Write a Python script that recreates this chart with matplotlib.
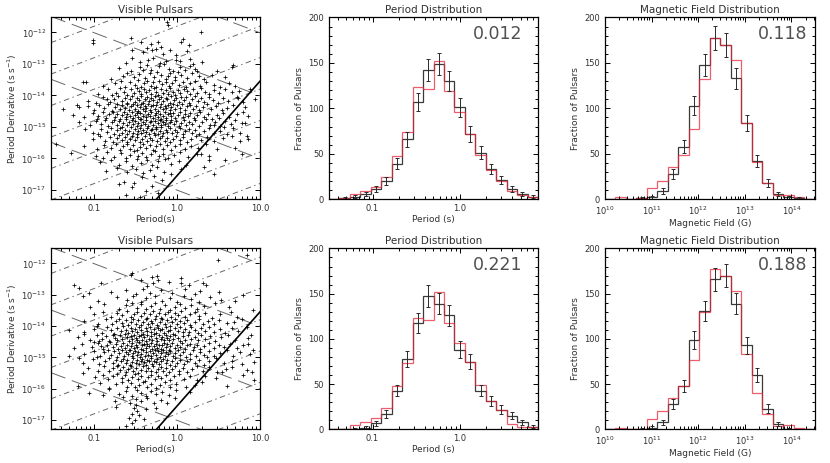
import numpy as np
import matplotlib.pyplot as plt
from matplotlib.ticker import LogLocator, FixedLocator, MultipleLocator, NullLocator, NullFormatter, FixedFormatter

plt.rcParams['font.family'] = ['DejaVu Sans']
plt.rcParams['lines.scale_dashes'] = False

# ---------------- datos (log10 P [s], log10 Pdot [s/s]) ----------------
# pulsares visibles, panel superior (leidos a ojo del grafico)
puntos_sup = [
    (-0.12,-11.66),(-0.11,-11.76),(0.29,-12.00),(-1.01,-12.24),(-1.02,-12.32),(-0.56,-12.19),(-0.43,-12.29),
    (-0.31,-12.37),(-0.23,-12.30),(0.07,-12.22),(0.05,-12.30),(-0.19,-12.46),(-0.36,-12.48),(0.14,-12.41),
    (-0.54,-12.56),(-0.41,-12.63),(-0.30,-12.57),(-0.25,-12.53),(-0.17,-12.67),(-0.01,-12.71),(0.12,-12.60),(-0.08,-12.55),
    (-0.54,-12.80),(-0.45,-12.95),(-0.29,-12.82),(-0.01,-12.86),(0.03,-12.92),(0.15,-12.84),(0.19,-12.99),(-0.21,-12.97),
    (-0.13,-12.90),(-0.35,-12.88),(-0.62,-12.98),(0.30,-12.93),
    (-0.70,-13.13),(-0.56,-13.21),(-0.45,-13.10),(-0.36,-13.02),(-0.31,-13.18),(-0.22,-13.08),(-0.10,-13.15),(-0.05,-13.23),
    (0.03,-13.11),(0.09,-13.20),(0.16,-13.06),(0.21,-13.17),(0.24,-13.24),(0.48,-13.22),(0.66,-13.10),(0.68,-13.04),
    (-0.41,-13.19),(-0.16,-13.01),
    (-0.80,-13.48),(-0.60,-13.30),(-0.52,-13.41),(-0.46,-13.33),(-0.39,-13.45),(-0.33,-13.28),(-0.28,-13.40),(-0.20,-13.36),
    (-0.14,-13.47),(-0.08,-13.30),(-0.03,-13.42),(0.05,-13.35),(0.12,-13.45),(0.18,-13.30),(0.26,-13.39),(0.33,-13.48),
    (0.42,-13.35),(0.58,-13.42),(-0.65,-13.39),(-0.24,-13.26),(-0.11,-13.38),(0.01,-13.27),
    (-1.14,-13.56),(-1.10,-13.56),(-0.89,-13.70),(-0.75,-13.62),(-0.68,-13.55),(-0.63,-13.72),(-0.57,-13.58),(-0.51,-13.66),
    (-0.47,-13.52),(-0.44,-13.73),(-0.40,-13.61),(-0.36,-13.55),(-0.32,-13.69),(-0.29,-13.58),(-0.25,-13.74),(-0.22,-13.53),
    (-0.18,-13.64),(-0.14,-13.57),(-0.10,-13.71),(-0.06,-13.60),(-0.02,-13.52),(0.02,-13.67),(0.07,-13.56),(0.11,-13.72),
    (0.16,-13.61),(0.22,-13.54),(0.28,-13.69),(0.35,-13.58),(0.44,-13.66),(0.52,-13.74),(0.63,-13.60),(0.70,-13.71),
    (-0.95,-13.96),(-0.83,-13.80),(-0.74,-13.92),(-0.69,-13.78),(-0.64,-13.88),(-0.60,-13.99),(-0.56,-13.81),(-0.52,-13.93),
    (-0.49,-13.77),(-0.46,-13.86),(-0.43,-13.97),(-0.40,-13.79),(-0.37,-13.90),(-0.34,-13.83),(-0.31,-13.96),(-0.28,-13.76),
    (-0.26,-13.88),(-0.23,-13.98),(-0.20,-13.80),(-0.17,-13.91),(-0.14,-13.84),(-0.11,-13.95),(-0.08,-13.77),(-0.05,-13.89),
    (-0.02,-13.99),(0.01,-13.82),(0.04,-13.93),(0.08,-13.79),(0.12,-13.87),(0.15,-13.97),(0.19,-13.81),(0.24,-13.92),
    (0.29,-13.78),(0.34,-13.89),(0.39,-13.96),(0.45,-13.84),(0.51,-13.93),(0.58,-13.80),(0.66,-13.90),(0.75,-13.85),
    (0.88,-13.79),(-0.79,-13.99),
    (-1.08,-14.18),(-0.90,-14.05),(-0.81,-14.21),(-0.76,-14.10),(-0.71,-14.02),(-0.67,-14.17),(-0.63,-14.07),(-0.60,-14.24),
    (-0.57,-14.12),(-0.54,-14.03),(-0.51,-14.20),(-0.49,-14.09),(-0.46,-14.15),(-0.44,-14.01),(-0.41,-14.23),(-0.39,-14.11),
    (-0.36,-14.05),(-0.34,-14.19),(-0.32,-14.08),(-0.29,-14.14),(-0.27,-14.02),(-0.24,-14.22),(-0.22,-14.10),(-0.19,-14.04),
    (-0.17,-14.18),(-0.14,-14.07),(-0.12,-14.13),(-0.09,-14.24),(-0.07,-14.01),(-0.04,-14.16),(-0.01,-14.09),(0.02,-14.21),
    (0.05,-14.04),(0.08,-14.14),(0.11,-14.06),(0.14,-14.23),(0.18,-14.11),(0.21,-14.02),(0.25,-14.18),(0.29,-14.08),
    (0.33,-14.20),(0.38,-14.05),(0.43,-14.15),(0.49,-14.24),(0.55,-14.09),(0.62,-14.19),(0.72,-14.06),(0.74,-14.08),
    (0.80,-14.22),(-0.98,-14.24),(-0.85,-14.13),(0.94,-14.12),
    (-1.21,-14.29),(-1.38,-14.44),(-1.08,-14.34),(-1.00,-14.45),(-0.94,-14.30),(-0.88,-14.41),(-0.83,-14.27),(-0.79,-14.48),
    (-0.75,-14.36),(-0.72,-14.26),(-0.69,-14.44),(-0.66,-14.32),(-0.63,-14.39),(-0.61,-14.27),(-0.58,-14.47),(-0.56,-14.35),
    (-0.53,-14.28),(-0.51,-14.42),(-0.49,-14.31),(-0.47,-14.49),(-0.45,-14.37),(-0.43,-14.26),(-0.41,-14.44),(-0.39,-14.33),
    (-0.37,-14.40),(-0.35,-14.28),(-0.33,-14.46),(-0.31,-14.35),(-0.29,-14.29),(-0.27,-14.42),(-0.25,-14.31),(-0.23,-14.48),
    (-0.21,-14.37),(-0.19,-14.27),(-0.17,-14.43),(-0.15,-14.34),(-0.13,-14.40),(-0.11,-14.29),(-0.09,-14.47),(-0.07,-14.36),
    (-0.05,-14.26),(-0.03,-14.44),(0.00,-14.32),(0.03,-14.41),(0.06,-14.28),(0.09,-14.46),(0.12,-14.35),(0.15,-14.30),
    (0.19,-14.43),(0.23,-14.33),(0.27,-14.47),(0.31,-14.38),(0.36,-14.28),(0.41,-14.44),(0.47,-14.34),(0.54,-14.46),
    (0.60,-14.40),(0.68,-14.30),(0.82,-14.36),(-1.18,-14.37),
    (-1.26,-14.62),(-1.13,-14.70),(-1.02,-14.56),(-0.95,-14.66),(-0.90,-14.52),(-0.86,-14.73),(-0.82,-14.60),(-0.78,-14.54),
    (-0.75,-14.69),(-0.72,-14.58),(-0.69,-14.74),(-0.67,-14.63),(-0.64,-14.53),(-0.62,-14.70),(-0.60,-14.59),(-0.57,-14.66),
    (-0.55,-14.52),(-0.53,-14.72),(-0.51,-14.61),(-0.49,-14.55),(-0.47,-14.68),(-0.45,-14.57),(-0.43,-14.74),(-0.41,-14.64),
    (-0.39,-14.51),(-0.37,-14.70),(-0.35,-14.59),(-0.33,-14.66),(-0.31,-14.54),(-0.29,-14.73),(-0.27,-14.62),(-0.25,-14.56),
    (-0.23,-14.69),(-0.21,-14.58),(-0.19,-14.75),(-0.17,-14.64),(-0.15,-14.52),(-0.13,-14.71),(-0.11,-14.60),(-0.09,-14.55),
    (-0.07,-14.67),(-0.05,-14.57),(-0.02,-14.73),(0.01,-14.63),(0.04,-14.53),(0.07,-14.70),(0.10,-14.60),(0.13,-14.66),
    (0.16,-14.55),(0.20,-14.72),(0.24,-14.61),(0.28,-14.52),(0.32,-14.68),(0.37,-14.58),(0.42,-14.74),(0.48,-14.63),
    (0.55,-14.55),(0.63,-14.69),(0.72,-14.60),(0.79,-14.53),(0.86,-14.67),(-0.97,-14.74),(0.50,-14.72),
    (-1.18,-14.83),(-1.05,-14.95),(-0.98,-14.80),(-0.92,-14.90),(-0.87,-14.77),(-0.83,-14.97),(-0.79,-14.85),(-0.76,-14.78),
    (-0.73,-14.93),(-0.70,-14.82),(-0.67,-14.99),(-0.65,-14.88),(-0.62,-14.76),(-0.60,-14.94),(-0.58,-14.84),(-0.55,-14.79),
    (-0.53,-14.92),(-0.51,-14.81),(-0.49,-14.98),(-0.47,-14.87),(-0.45,-14.76),(-0.43,-14.95),(-0.41,-14.83),(-0.39,-14.90),
    (-0.37,-14.78),(-0.35,-14.97),(-0.33,-14.86),(-0.31,-14.80),(-0.29,-14.93),(-0.27,-14.82),(-0.25,-14.99),(-0.23,-14.88),
    (-0.21,-14.77),(-0.19,-14.94),(-0.17,-14.84),(-0.15,-14.91),(-0.13,-14.79),(-0.11,-14.96),(-0.09,-14.85),(-0.07,-14.78),
    (-0.04,-14.92),(-0.01,-14.82),(0.02,-14.98),(0.05,-14.87),(0.08,-14.77),(0.11,-14.94),(0.14,-14.83),(0.18,-14.90),
    (0.22,-14.79),(0.26,-14.96),(0.30,-14.85),(0.35,-14.76),(0.40,-14.93),(0.45,-14.94),(0.46,-14.84),(0.52,-14.97),
    (0.58,-14.80),(0.65,-14.91),(0.70,-14.77),(0.57,-14.99),(0.78,-14.88),(0.82,-14.88),
    (-1.02,-15.20),(-0.92,-15.08),(-0.85,-15.17),(-0.80,-15.03),(-0.76,-15.22),(-0.72,-15.11),(-0.69,-15.05),(-0.66,-15.19),
    (-0.63,-15.09),(-0.60,-15.24),(-0.58,-15.13),(-0.56,-15.02),(-0.53,-15.18),(-0.51,-15.07),(-0.49,-15.23),(-0.47,-15.12),
    (-0.45,-15.04),(-0.43,-15.20),(-0.41,-15.10),(-0.38,-15.16),(-0.36,-15.03),(-0.34,-15.22),(-0.32,-15.11),(-0.30,-15.06),
    (-0.28,-15.19),(-0.26,-15.08),(-0.23,-15.24),(-0.21,-15.13),(-0.19,-15.02),(-0.17,-15.18),(-0.14,-15.09),(-0.12,-15.15),
    (-0.09,-15.04),(-0.06,-15.21),(-0.03,-15.10),(0.00,-15.17),(0.03,-15.05),(0.07,-15.23),(0.10,-15.12),(0.14,-15.07),
    (0.18,-15.19),(0.22,-15.09),(0.27,-15.24),(0.32,-15.14),(0.38,-15.04),(0.44,-15.20),(0.52,-15.12),(0.60,-15.22),
    (0.68,-15.04),(0.76,-15.18),(-1.11,-15.06),(-0.96,-15.23),
    (-1.02,-15.38),(-0.93,-15.30),(-0.87,-15.44),(-0.81,-15.33),(-0.77,-15.48),(-0.73,-15.36),(-0.70,-15.27),(-0.66,-15.42),
    (-0.63,-15.31),(-0.60,-15.47),(-0.57,-15.37),(-0.54,-15.28),(-0.51,-15.43),(-0.48,-15.33),(-0.45,-15.49),(-0.42,-15.39),
    (-0.39,-15.29),(-0.36,-15.45),(-0.33,-15.35),(-0.30,-15.41),(-0.27,-15.27),(-0.24,-15.46),(-0.21,-15.36),(-0.18,-15.30),
    (-0.15,-15.44),(-0.12,-15.34),(-0.08,-15.48),(-0.05,-15.38),(-0.01,-15.28),(0.03,-15.43),(0.07,-15.33),(0.12,-15.47),
    (0.17,-15.37),(0.23,-15.29),(0.29,-15.42),(0.36,-15.32),(0.45,-15.46),(0.55,-15.35),(0.66,-15.30),(0.76,-15.44),
    (0.86,-15.37),(0.84,-15.28),
    (-1.46,-15.56),(-1.13,-15.62),(-0.97,-15.70),(-0.88,-15.58),(-0.80,-15.67),(-0.74,-15.53),(-0.69,-15.72),(-0.65,-15.60),
    (-0.61,-15.55),(-0.57,-15.69),(-0.53,-15.58),(-0.49,-15.74),(-0.45,-15.63),(-0.41,-15.53),(-0.37,-15.68),(-0.33,-15.57),
    (-0.29,-15.73),(-0.25,-15.62),(-0.21,-15.54),(-0.17,-15.69),(-0.12,-15.59),(-0.07,-15.72),(-0.02,-15.61),(0.04,-15.55),
    (0.10,-15.70),(0.17,-15.60),(0.25,-15.66),(0.35,-15.56),(0.48,-15.71),(0.70,-15.66),
    (-1.28,-15.82),(-0.98,-15.92),(-0.85,-15.79),(-0.76,-15.95),(-0.68,-15.84),(-0.62,-15.98),(-0.57,-15.88),(-0.52,-15.77),
    (-0.47,-15.93),(-0.42,-15.83),(-0.37,-15.97),(-0.32,-15.86),(-0.27,-15.78),(-0.22,-15.94),(-0.17,-15.85),(-0.11,-15.99),
    (-0.04,-15.88),(0.04,-15.80),(0.13,-15.95),(0.24,-15.86),(0.38,-15.91),(-0.90,-15.99),(0.78,-15.85),(0.29,-15.85),
    (-0.93,-16.12),(-0.80,-16.05),(-0.70,-16.20),(-0.62,-16.08),(-0.55,-16.23),(-0.49,-16.03),(-0.43,-16.16),(-0.36,-16.06),
    (-0.30,-16.21),(-0.23,-16.10),(-0.15,-16.03),(-0.07,-16.18),(0.02,-16.09),(0.11,-16.22),(0.38,-16.05),(0.58,-16.05),
    (-0.72,-16.30),(-0.61,-16.42),(-0.50,-16.33),(-0.41,-16.47),(-0.33,-16.36),(-0.24,-16.28),(-0.16,-16.44),(-0.07,-16.49),
    (0.05,-16.35),(-0.86,-16.40),(0.33,-16.27),(0.45,-16.49),
    (-0.64,-16.75),(-0.52,-16.79),(-0.70,-16.81),(-0.42,-16.60),(-0.28,-16.55),(-0.18,-16.70),
    (-0.55,-16.92),(-0.38,-17.05),(-0.30,-16.88),(-0.62,-17.15),(-0.45,-17.22),(-0.23,-17.10),
]

# pulsares visibles, panel inferior
puntos_inf = [
    (0.49,-11.89),(0.84,-11.73),(-0.56,-12.37),(-0.54,-12.31),(-0.30,-12.45),(-0.24,-12.40),(0.05,-12.48),
    (-0.43,-12.53),(-0.29,-12.64),(-0.23,-12.53),(0.05,-12.64),(0.31,-12.64),(0.35,-12.69),(-1.24,-12.69),(-0.92,-12.64),
    (-0.36,-12.72),(-0.10,-12.58),(0.14,-12.70),
    (-1.18,-12.80),(-0.80,-12.90),(-0.62,-12.85),(-0.50,-12.97),(-0.41,-12.81),(-0.33,-12.93),(-0.19,-12.86),(-0.06,-12.95),
    (0.09,-12.82),(0.21,-12.98),(0.28,-12.88),(-1.06,-12.95),(0.50,-12.92),
    (-1.14,-13.05),(-0.95,-13.20),(-0.72,-13.08),(-0.60,-13.16),(-0.53,-13.03),(-0.44,-13.22),(-0.37,-13.12),(-0.27,-13.05),
    (-0.18,-13.19),(-0.09,-13.10),(0.00,-13.24),(0.08,-13.04),(0.17,-13.15),(0.27,-13.22),(0.40,-13.08),(0.53,-13.17),
    (0.70,-13.20),(0.80,-13.02),
    (-1.05,-13.38),(-0.88,-13.30),(-0.70,-13.45),(-0.62,-13.34),(-0.55,-13.27),(-0.49,-13.42),(-0.43,-13.31),(-0.38,-13.47),
    (-0.32,-13.36),(-0.27,-13.28),(-0.21,-13.44),(-0.15,-13.33),(-0.09,-13.49),(-0.03,-13.38),(0.03,-13.29),(0.10,-13.43),
    (0.17,-13.32),(0.24,-13.46),(0.33,-13.37),(0.46,-13.28),(0.63,-13.40),(0.92,-13.48),
    (-1.00,-13.62),(-0.90,-13.55),(-0.80,-13.70),(-0.73,-13.58),(-0.67,-13.66),(-0.61,-13.53),(-0.56,-13.72),(-0.52,-13.60),
    (-0.48,-13.54),(-0.44,-13.69),(-0.40,-13.58),(-0.36,-13.74),(-0.33,-13.63),(-0.29,-13.52),(-0.26,-13.68),(-0.22,-13.57),
    (-0.19,-13.73),(-0.15,-13.62),(-0.11,-13.55),(-0.07,-13.70),(-0.03,-13.59),(0.01,-13.66),(0.05,-13.53),(0.10,-13.71),
    (0.15,-13.61),(0.21,-13.56),(0.27,-13.69),(0.34,-13.59),(0.42,-13.74),(0.52,-13.63),(0.65,-13.55),(0.72,-13.70),
    (-1.12,-13.85),(-0.96,-13.92),(-0.86,-13.79),(-0.79,-13.95),(-0.74,-13.83),(-0.70,-13.76),(-0.66,-13.91),(-0.62,-13.81),
    (-0.59,-13.97),(-0.56,-13.87),(-0.53,-13.77),(-0.50,-13.93),(-0.47,-13.82),(-0.44,-13.98),(-0.41,-13.88),(-0.38,-13.78),
    (-0.35,-13.94),(-0.32,-13.84),(-0.30,-13.90),(-0.27,-13.79),(-0.24,-13.96),(-0.21,-13.86),(-0.18,-13.76),(-0.15,-13.92),
    (-0.12,-13.82),(-0.09,-13.99),(-0.06,-13.88),(-0.03,-13.78),(0.00,-13.94),(0.04,-13.84),(0.08,-13.90),(0.12,-13.80),
    (0.16,-13.97),(0.21,-13.86),(0.26,-13.77),(0.31,-13.93),(0.37,-13.83),(0.44,-13.95),(0.51,-13.81),(0.60,-13.91),
    (0.69,-13.86),(0.78,-13.79),
    (-1.12,-14.18),(-1.00,-14.08),(-0.91,-14.21),(-0.85,-14.03),(-0.80,-14.14),(-0.76,-14.24),(-0.72,-14.06),(-0.68,-14.17),
    (-0.65,-14.01),(-0.62,-14.12),(-0.59,-14.22),(-0.56,-14.05),(-0.54,-14.15),(-0.51,-14.09),(-0.48,-14.20),(-0.46,-14.02),
    (-0.43,-14.13),(-0.41,-14.24),(-0.38,-14.07),(-0.36,-14.16),(-0.33,-14.03),(-0.31,-14.19),(-0.28,-14.10),(-0.26,-14.23),
    (-0.23,-14.05),(-0.21,-14.14),(-0.18,-14.08),(-0.16,-14.21),(-0.13,-14.02),(-0.11,-14.17),(-0.08,-14.11),(-0.05,-14.24),
    (-0.02,-14.06),(0.01,-14.15),(0.04,-14.03),(0.07,-14.20),(0.10,-14.09),(0.14,-14.18),(0.17,-14.04),(0.21,-14.13),
    (0.25,-14.22),(0.29,-14.07),(0.34,-14.16),(0.39,-14.03),(0.45,-14.19),(0.52,-14.10),(0.58,-14.21),(0.66,-14.05),
    (0.84,-14.02),(0.74,-14.15),(-0.97,-14.01),(-1.30,-14.12),
    (-1.20,-14.35),(-1.05,-14.44),(-0.97,-14.29),(-0.91,-14.40),(-0.86,-14.32),(-0.82,-14.47),(-0.78,-14.27),(-0.75,-14.38),
    (-0.72,-14.45),(-0.69,-14.30),(-0.66,-14.41),(-0.63,-14.26),(-0.61,-14.36),(-0.58,-14.48),(-0.56,-14.31),(-0.54,-14.42),
    (-0.52,-14.28),(-0.50,-14.39),(-0.48,-14.46),(-0.46,-14.33),(-0.44,-14.27),(-0.42,-14.43),(-0.40,-14.35),(-0.38,-14.49),
    (-0.36,-14.29),(-0.34,-14.40),(-0.32,-14.32),(-0.30,-14.45),(-0.28,-14.26),(-0.26,-14.37),(-0.24,-14.48),(-0.22,-14.30),
    (-0.20,-14.41),(-0.18,-14.34),(-0.16,-14.46),(-0.14,-14.27),(-0.12,-14.38),(-0.10,-14.44),(-0.08,-14.31),(-0.05,-14.42),
    (-0.02,-14.28),(0.01,-14.39),(0.04,-14.47),(0.07,-14.33),(0.10,-14.43),(0.13,-14.29),(0.17,-14.40),(0.21,-14.35),
    (0.25,-14.46),(0.29,-14.30),(0.34,-14.42),(0.40,-14.33),(0.46,-14.48),(0.53,-14.36),(0.61,-14.28),(0.70,-14.44),
    (0.85,-14.39),(0.89,-14.30),(-1.12,-14.26),(-0.94,-14.49),
    (-1.15,-14.57),(-1.03,-14.68),(-0.95,-14.54),(-0.89,-14.72),(-0.85,-14.61),(-0.81,-14.52),(-0.77,-14.66),(-0.74,-14.56),
    (-0.71,-14.74),(-0.68,-14.63),(-0.65,-14.53),(-0.63,-14.69),(-0.60,-14.59),(-0.58,-14.75),(-0.56,-14.64),(-0.54,-14.55),
    (-0.52,-14.71),(-0.50,-14.60),(-0.48,-14.67),(-0.46,-14.52),(-0.44,-14.73),(-0.42,-14.62),(-0.40,-14.56),(-0.38,-14.70),
    (-0.36,-14.58),(-0.34,-14.65),(-0.32,-14.53),(-0.30,-14.74),(-0.28,-14.63),(-0.26,-14.57),(-0.24,-14.69),(-0.22,-14.59),
    (-0.20,-14.72),(-0.18,-14.61),(-0.16,-14.54),(-0.14,-14.68),(-0.12,-14.58),(-0.10,-14.75),(-0.08,-14.64),(-0.06,-14.55),
    (-0.03,-14.70),(0.00,-14.60),(0.03,-14.66),(0.06,-14.53),(0.09,-14.73),(0.12,-14.62),(0.16,-14.56),(0.20,-14.68),
    (0.24,-14.59),(0.28,-14.74),(0.33,-14.63),(0.38,-14.54),(0.44,-14.70),(0.50,-14.61),(0.57,-14.67),(0.64,-14.56),
    (0.72,-14.70),(0.80,-14.62),(-1.00,-14.51),(-0.92,-14.64),(0.86,-14.58),(-1.25,-14.70),
    (-1.12,-14.88),(-1.00,-14.80),(-0.93,-14.95),(-0.88,-14.84),(-0.84,-14.77),(-0.80,-14.92),(-0.76,-14.81),(-0.73,-14.98),
    (-0.70,-14.87),(-0.67,-14.78),(-0.64,-14.94),(-0.62,-14.83),(-0.59,-14.90),(-0.57,-14.76),(-0.55,-14.97),(-0.53,-14.86),
    (-0.51,-14.80),(-0.49,-14.93),(-0.47,-14.82),(-0.45,-14.99),(-0.43,-14.88),(-0.41,-14.77),(-0.39,-14.95),(-0.37,-14.84),
    (-0.35,-14.91),(-0.33,-14.79),(-0.31,-14.96),(-0.29,-14.85),(-0.27,-14.78),(-0.25,-14.92),(-0.23,-14.81),(-0.21,-14.98),
    (-0.19,-14.87),(-0.17,-14.76),(-0.15,-14.94),(-0.13,-14.83),(-0.11,-14.90),(-0.08,-14.79),(-0.05,-14.96),(-0.02,-14.85),
    (0.01,-14.77),(0.04,-14.93),(0.07,-14.82),(0.11,-14.99),(0.15,-14.88),(0.19,-14.78),(0.23,-14.94),(0.28,-14.84),
    (0.33,-14.91),(0.39,-14.80),(0.45,-14.97),(0.52,-14.86),(0.60,-14.78),(0.68,-14.95),(0.76,-14.83),(0.88,-14.90),
    (-1.30,-14.97),(0.36,-14.99),(-0.97,-14.99),(0.92,-14.77),
    (-1.14,-15.18),(-1.02,-15.06),(-0.94,-15.21),(-0.87,-15.10),(-0.82,-15.03),(-0.78,-15.17),(-0.74,-15.08),(-0.71,-15.23),
    (-0.68,-15.12),(-0.65,-15.04),(-0.62,-15.19),(-0.60,-15.09),(-0.57,-15.24),(-0.55,-15.14),(-0.53,-15.02),(-0.50,-15.18),
    (-0.48,-15.07),(-0.46,-15.21),(-0.44,-15.11),(-0.42,-15.05),(-0.40,-15.16),(-0.38,-15.24),(-0.36,-15.08),(-0.34,-15.13),
    (-0.32,-15.02),(-0.30,-15.20),(-0.28,-15.10),(-0.26,-15.15),(-0.24,-15.04),(-0.22,-15.22),(-0.19,-15.12),(-0.17,-15.06),
    (-0.14,-15.19),(-0.12,-15.09),(-0.09,-15.24),(-0.06,-15.13),(-0.03,-15.03),(0.00,-15.17),(0.04,-15.08),(0.08,-15.21),
    (0.12,-15.11),(0.16,-15.05),(0.21,-15.18),(0.26,-15.09),(0.32,-15.23),(0.39,-15.12),(0.47,-15.03),(0.56,-15.19),
    (0.66,-15.10),(0.78,-15.22),(0.93,-15.16),(-1.18,-15.02),
    (-1.07,-15.33),(-0.96,-15.42),(-0.88,-15.29),(-0.82,-15.45),(-0.77,-15.35),(-0.73,-15.27),(-0.69,-15.41),(-0.65,-15.32),
    (-0.62,-15.48),(-0.59,-15.38),(-0.56,-15.28),(-0.53,-15.44),(-0.50,-15.34),(-0.47,-15.49),(-0.44,-15.39),(-0.41,-15.29),
    (-0.38,-15.45),(-0.35,-15.35),(-0.32,-15.42),(-0.29,-15.28),(-0.26,-15.46),(-0.23,-15.36),(-0.20,-15.30),(-0.17,-15.44),
    (-0.13,-15.34),(-0.10,-15.48),(-0.06,-15.38),(-0.02,-15.28),(0.02,-15.43),(0.07,-15.33),(0.12,-15.47),(0.18,-15.37),
    (0.24,-15.29),(0.31,-15.42),(0.39,-15.32),(0.48,-15.46),(0.54,-15.46),(0.59,-15.36),(0.66,-15.31),(0.84,-15.40),
    (0.90,-15.46),
    (-1.14,-15.51),(-0.99,-15.63),(-0.90,-15.56),(-0.83,-15.70),(-0.77,-15.59),(-0.72,-15.53),(-0.67,-15.67),(-0.63,-15.57),
    (-0.59,-15.73),(-0.55,-15.62),(-0.51,-15.54),(-0.47,-15.69),(-0.43,-15.58),(-0.39,-15.74),(-0.35,-15.63),(-0.31,-15.55),
    (-0.27,-15.70),(-0.23,-15.60),(-0.19,-15.66),(-0.14,-15.56),(-0.09,-15.72),(-0.04,-15.61),(0.02,-15.53),(0.08,-15.68),
    (0.15,-15.58),(0.24,-15.71),(0.34,-15.60),(0.47,-15.66),(0.80,-15.55),(0.93,-15.72),
    (-1.20,-15.90),(-0.93,-15.83),(-0.82,-15.97),(-0.74,-15.86),(-0.67,-15.78),(-0.61,-15.93),(-0.56,-15.82),(-0.51,-15.96),
    (-0.46,-15.87),(-0.41,-15.79),(-0.36,-15.94),(-0.31,-15.84),(-0.26,-15.98),(-0.21,-15.88),(-0.15,-15.80),(-0.09,-15.95),
    (-0.01,-15.85),(0.11,-15.94),(0.21,-15.88),(0.30,-15.80),(0.60,-15.92),
    (-1.06,-16.15),(-0.82,-16.02),(-0.70,-16.18),(-0.62,-16.08),(-0.55,-16.22),(-0.49,-16.05),(-0.43,-16.14),(-0.37,-16.24),
    (-0.31,-16.07),(-0.25,-16.17),(-0.18,-16.10),(-0.10,-16.21),(-0.01,-16.04),(0.15,-16.12),(-0.89,-16.20),
    (-0.50,-16.32),(-0.57,-16.45),(-0.44,-16.40),(-0.36,-16.30),(-0.28,-16.47),(-0.20,-16.36),(-0.65,-16.28),(-0.12,-16.44),
    (-0.75,-16.38),(-0.02,-16.29),
    (-0.50,-16.52),(-0.52,-16.62),(-0.48,-16.70),(-0.74,-16.58),(-0.38,-16.66),(-0.26,-16.60),
    (-0.54,-16.80),(-0.58,-16.95),(-0.51,-17.00),(-0.55,-17.10),(-0.46,-16.85),(-0.62,-17.18),(-0.40,-16.98),
]

# lineas de referencia del diagrama P-Pdot
campos_B = [1e10, 1e11, 1e12, 1e13, 1e14]            # Gauss
edades = [1e3, 1e4, 1e5, 1e6, 1e7, 1e8, 1e9, 1e10]     # anios
linea_muerte = 0.17e12                                 # B/P^2 [G s^-2]

# histogramas: bordes en log10 y cuentas por bin
bordes_periodo = np.linspace(-1.5, 0.9, 21)
bordes_campo = np.linspace(10.0, 14.5, 21)

periodo_obs_sup = [0, 1, 3, 6, 11, 20, 39, 66, 107, 142, 149, 130, 101, 72, 51, 33, 21, 11, 6, 3]
periodo_mod_sup = [0, 1, 6, 9, 14, 25, 48, 74, 123, 121, 152, 119, 96, 72, 49, 32, 20, 9, 5, 3]
periodo_obs_inf = [0, 0, 1, 2, 7, 17, 43, 78, 118, 147, 139, 126, 88, 75, 43, 31, 22, 15, 8, 3]
periodo_mod_inf = [0, 0, 5, 8, 13, 24, 48, 73, 123, 121, 152, 118, 96, 74, 49, 32, 21, 6, 3, 3]

campo_obs_sup = [0, 0, 0, 1, 2, 9, 28, 58, 103, 148, 177, 170, 133, 84, 42, 18, 6, 2, 1, 0]
campo_mod_sup = [0, 2, 0, 1, 12, 20, 35, 49, 77, 132, 177, 170, 153, 84, 41, 18, 5, 5, 2, 0]
campo_obs_inf = [0, 0, 0, 1, 2, 8, 28, 48, 99, 131, 166, 170, 139, 93, 60, 23, 6, 1, 0, 0]
campo_mod_inf = [0, 2, 0, 1, 12, 20, 35, 48, 77, 130, 177, 170, 153, 83, 40, 17, 4, 5, 2, 0]

estadisticos = ["0.012", "0.118", "0.221", "0.188"]

color_texto = "#303030"


def ejes_idl(ax):
    for s in ax.spines.values():
        s.set_linewidth(0.9)
    ax.tick_params(which='both', direction='in', top=True, right=True, labelsize=6,
                   labelcolor=color_texto, width=0.7)
    ax.tick_params(which='major', length=3.5)
    ax.tick_params(which='minor', length=2)


def graficar_scatter(ax, puntos):
    pts = np.array(puntos)
    p = 10 ** pts[:, 0]
    pdot = 10 ** pts[:, 1]
    pgrid = np.logspace(np.log10(0.03), 1, 50)
    for b in campos_B:
        ax.plot(pgrid, (b / 3.2e19) ** 2 / pgrid, color='#666666', lw=0.7, dashes=(11, 5))
    for t in edades:
        ax.plot(pgrid, pgrid / (2 * t * 3.156e7), color='#666666', lw=0.7, dashes=(4, 2.5, 1, 2.5))
    ax.plot(pgrid, (linea_muerte * pgrid ** 2 / 3.2e19) ** 2 / pgrid, color='k', lw=1.2)
    ax.plot(p, pdot, '+', color='k', ms=2.8, mew=0.55)

    ax.set_xscale('log')
    ax.set_yscale('log')
    ax.set_xlim(0.03, 10)
    ax.set_ylim(5e-18, 3e-12)
    ax.xaxis.set_major_locator(FixedLocator([0.1, 1.0, 10.0]))
    ax.xaxis.set_major_formatter(FixedFormatter(["0.1", "1.0", "10.0"]))
    ax.xaxis.set_minor_locator(LogLocator(base=10, subs=np.arange(2, 10)))
    ax.xaxis.set_minor_formatter(NullFormatter())
    ax.yaxis.set_major_locator(FixedLocator([1e-17, 1e-16, 1e-15, 1e-14, 1e-13, 1e-12]))
    ax.yaxis.set_major_formatter(FixedFormatter(["10$^{-17}$", "10$^{-16}$", "10$^{-15}$",
                                                 "10$^{-14}$", "10$^{-13}$", "10$^{-12}$"]))
    ax.yaxis.set_minor_locator(NullLocator())
    ax.set_title("Visible Pulsars", fontsize=7.5, color=color_texto, pad=3)
    ax.set_xlabel("Period(s)", fontsize=6.5, color=color_texto, labelpad=1.5)
    ax.set_ylabel("Period Derivative (s s$^{-1}$)", fontsize=6.5, color=color_texto, labelpad=2)
    ejes_idl(ax)


def graficar_hist(ax, bordes, obs, modelo, titulo, xlabel, stat, xstat):
    obs = np.array(obs, dtype=float)
    modelo = np.array(modelo, dtype=float)
    x_bordes = 10 ** bordes
    centros = 10 ** ((bordes[:-1] + bordes[1:]) / 2)
    ax.stairs(obs, x_bordes, color='#3a3a3a', lw=0.9, baseline=0)
    m = obs > 0
    ax.errorbar(centros[m], obs[m], yerr=np.sqrt(obs[m]), fmt='none', ecolor='#2a2a2a',
                elinewidth=0.7, capsize=1.2, capthick=0.7)
    ax.stairs(modelo, x_bordes, color='#e8283c', lw=0.9, alpha=0.75, baseline=0)

    ax.set_xscale('log')
    ax.set_xlim(x_bordes[0], x_bordes[-1])
    ax.set_ylim(0, 200)
    ax.yaxis.set_major_locator(MultipleLocator(50))
    ax.yaxis.set_minor_locator(MultipleLocator(10))
    ax.xaxis.set_minor_locator(LogLocator(base=10, subs=np.arange(2, 10)))
    ax.xaxis.set_minor_formatter(NullFormatter())
    ax.set_title(titulo, fontsize=7.5, color=color_texto, pad=3)
    ax.set_xlabel(xlabel, fontsize=6.5, color=color_texto, labelpad=1.5)
    ax.set_ylabel("Fraction of Pulsars", fontsize=6.5, color=color_texto, labelpad=3)
    ax.text(xstat, 0.96, stat, transform=ax.transAxes, ha='right', va='top',
            fontsize=12.5, color='#505050')
    ejes_idl(ax)


fig = plt.figure(figsize=(8.3, 4.63), dpi=100)

izq = [0.0614, 0.3964, 0.7289]
ancho = 0.2518
filas = [(0.5696, 0.3927), (0.0724, 0.3910)]

for fila, (abajo, alto) in enumerate(filas):
    ax1 = fig.add_axes([izq[0], abajo, ancho, alto])
    ax2 = fig.add_axes([izq[1], abajo, ancho, alto])
    ax3 = fig.add_axes([izq[2], abajo, ancho + 0.001, alto])

    if fila == 0:
        graficar_scatter(ax1, puntos_sup)
        graficar_hist(ax2, bordes_periodo, periodo_obs_sup, periodo_mod_sup,
                      "Period Distribution", "Period (s)", estadisticos[0], 0.925)
        graficar_hist(ax3, bordes_campo, campo_obs_sup, campo_mod_sup,
                      "Magnetic Field Distribution", "Magnetic Field (G)", estadisticos[1], 0.965)
    else:
        graficar_scatter(ax1, puntos_inf)
        graficar_hist(ax2, bordes_periodo, periodo_obs_inf, periodo_mod_inf,
                      "Period Distribution", "Period (s)", estadisticos[2], 0.925)
        graficar_hist(ax3, bordes_campo, campo_obs_inf, campo_mod_inf,
                      "Magnetic Field Distribution", "Magnetic Field (G)", estadisticos[3], 0.965)

    ax2.xaxis.set_major_locator(FixedLocator([0.1, 1.0]))
    ax2.xaxis.set_major_formatter(FixedFormatter(["0.1", "1.0"]))
    ax3.xaxis.set_major_locator(FixedLocator([1e10, 1e11, 1e12, 1e13, 1e14]))
    ax3.xaxis.set_major_formatter(FixedFormatter(["10$^{10}$", "10$^{11}$", "10$^{12}$",
                                                  "10$^{13}$", "10$^{14}$"]))

fig.savefig("out.png", dpi=100)
